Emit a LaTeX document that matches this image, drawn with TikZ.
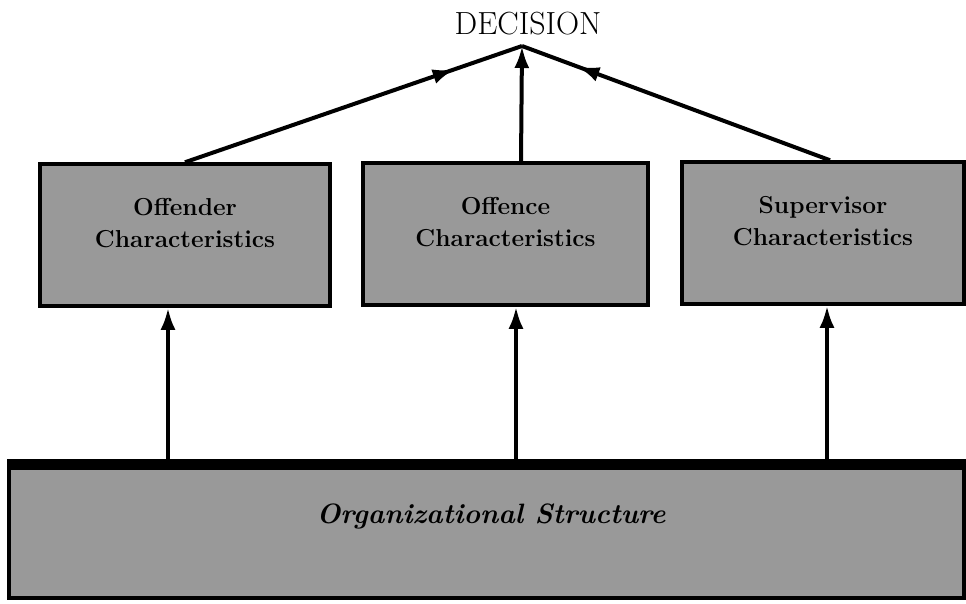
\documentclass[tikz,border=0pt]{standalone}
\usetikzlibrary{arrows.meta,decorations.markings,calc}
\begin{document}
\begin{tikzpicture}[x=1pt,y=-1pt,
  box/.style={draw=black,line width=3.5pt,fill=black!40,inner sep=0pt},
  boxtext/.style={align=center,font=\bfseries\fontsize{24.5}{32}\selectfont,inner sep=0pt},
  conn/.style={line width=4pt},
  arr/.style={conn,-{Latex[length=22pt,width=15pt]}},
  midarr/.style={conn,postaction={decorate},decoration={markings,mark=at position #1 with {\arrow{Latex[length=22pt,width=15pt]}}}}
]
\useasboundingbox (0,0) rectangle (966,603);
% top label
\node[inner sep=0pt,font=\fontsize{32}{36}\selectfont] (dec) at (528,24) {DECISION};
\coordinate (apex) at (522,46);
% boxes
\node[box,minimum width=290pt,minimum height=142pt] (b1) at (185,235) {};
\node[box,minimum width=285pt,minimum height=142pt] (b2) at (505.5,234) {};
\node[box,minimum width=282pt,minimum height=142pt] (b3) at (823,233) {};
\node[boxtext] (t1) at (185,223) {Offender\\Characteristics};
\node[boxtext] (t2) at (505.5,222) {Offence\\Characteristics};
\node[boxtext] (t3) at (823,221) {Supervisor\\Characteristics};
% bottom box
\node[box,minimum width=955pt,minimum height=131.5pt] (org) at (486.5,532.25) {};
\draw[line width=11pt] (org.north west) -- (org.north east);
\node[inner sep=0pt,font=\bfseries\itshape\fontsize{28}{32}\selectfont] (ot) at (491,516) {Organizational Structure};
% connector x positions
\coordinate (v1) at (168,0);
\coordinate (v2) at (516,0);
\coordinate (v3) at (827,0);
\coordinate (m2) at (521,0);
\coordinate (r3) at (830,0);
% vertical arrows from organizational structure
\draw[arr] (org.north -| v1) -- (b1.south -| v1);
\draw[arr] (org.north -| v2) -- (b2.south -| v2);
\draw[arr] (org.north -| v3) -- (b3.south -| v3);
% arrows to decision
\draw[midarr=0.8] (b1.north) -- (apex);
\draw[arr] (b2.north -| m2) -- (apex);
\draw[midarr=0.82] (b3.north -| r3) -- (apex);
\end{tikzpicture}
\end{document}
